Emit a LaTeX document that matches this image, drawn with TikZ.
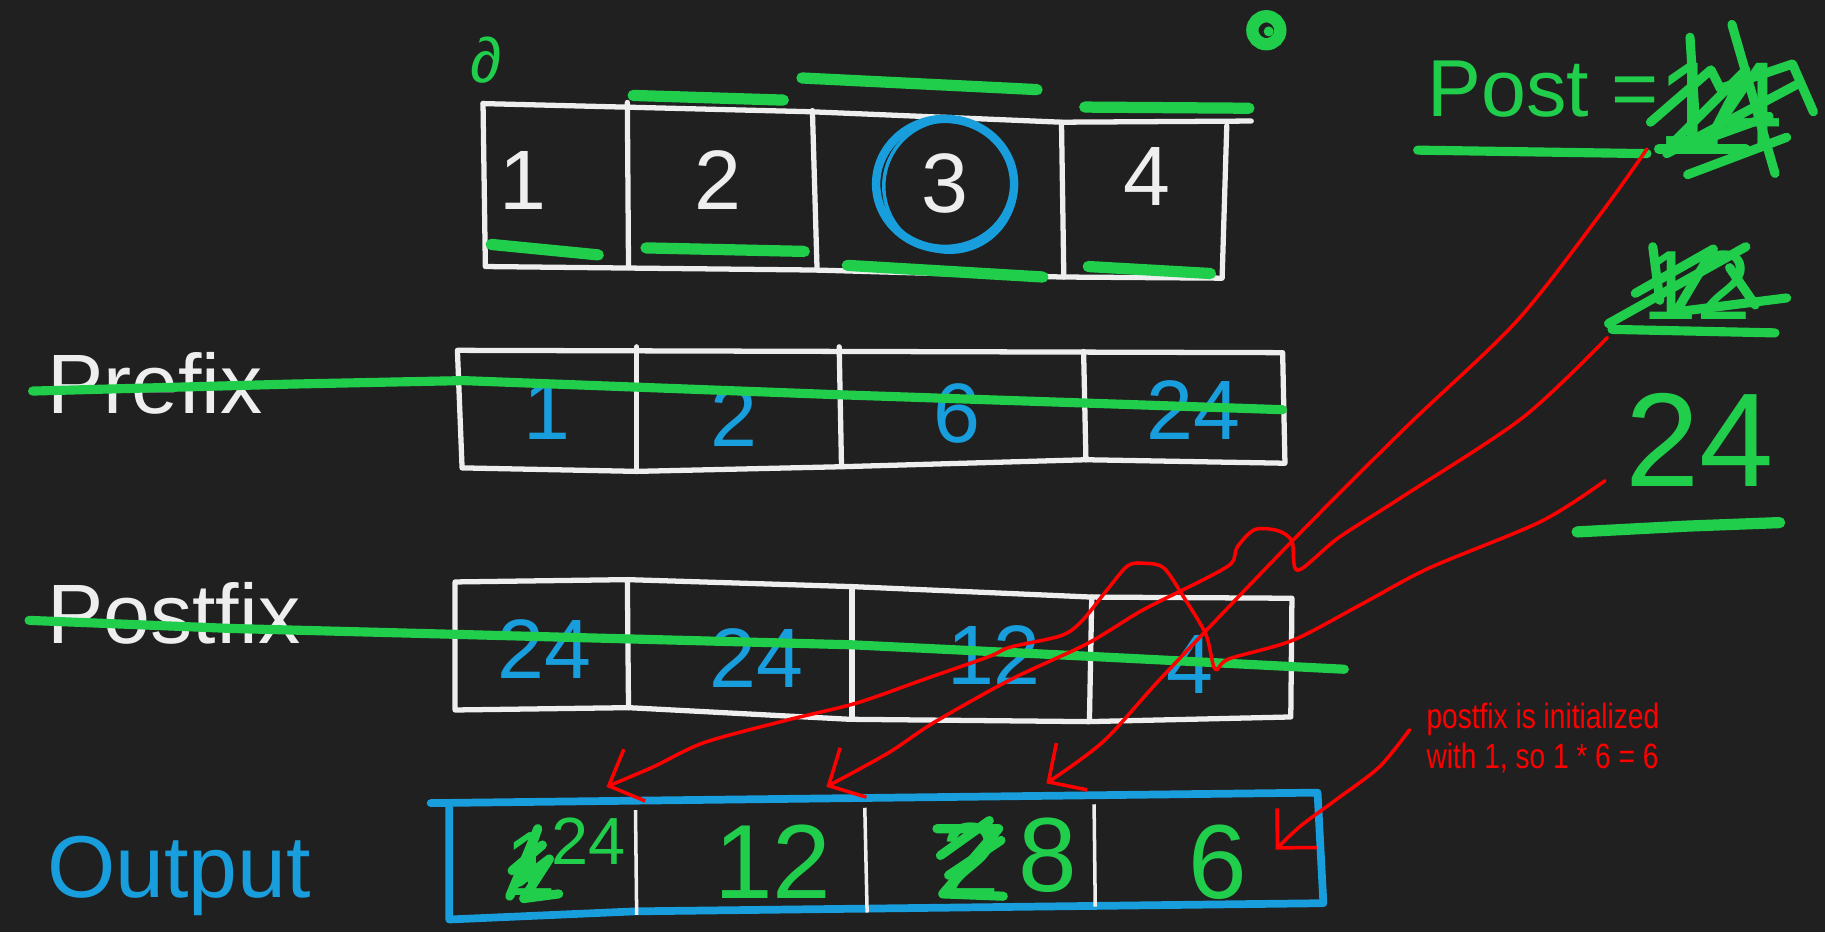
\documentclass[tikz,border=0pt]{standalone}
\usepackage{fontspec}
\setmainfont{Liberation Sans}
\newfontfamily\notefont[FakeStretch=0.8]{Liberation Sans}
\usetikzlibrary{arrows.meta,calc}

\definecolor{board}{RGB}{32,32,32}
\definecolor{chalk}{RGB}{238,238,238}
\definecolor{marker}{RGB}{32,206,76}
\definecolor{penblue}{RGB}{24,158,220}
\definecolor{penred}{RGB}{255,0,0}

\begin{document}
\begin{tikzpicture}[
        x=0.01164cm, y=-0.01164cm,
        box/.style={draw=chalk, line width=1.5pt, line join=round, line cap=round},
        obox/.style={draw=penblue, line width=2.2pt, line join=round, line cap=round},
        hl/.style={draw=marker, line width=3.2pt, line cap=round, line join=round},
        strike/.style={draw=marker, line width=2.6pt, line cap=round, line join=round},
        scrib/.style={draw=marker, line width=2.6pt, line cap=round, line join=round},
        link/.style={draw=penred, line width=1pt, line cap=round, line join=round,
            -{Straight Barb[length=2.8mm, width=5.6mm]}},
        rowname/.style={font=\fontsize{25}{30}\selectfont, inner sep=0pt, anchor=base west},
        val/.style={font=\fontsize{24}{28}\selectfont, inner sep=0pt},
        outval/.style={font=\fontsize{30}{36}\selectfont, inner sep=0pt, text=marker}
    ]

    \fill[board] (0,0) rectangle (1568,801);
    \useasboundingbox (0,0) rectangle (1568,801);

    % Step 1: input array
    \draw[box] (415,89) -- (696,96) -- (912,105) -- (1075,104);
    \draw[box] (415,89) -- (417,229) -- (700,232) -- (912,238) -- (1050,239) -- (1054,108);
    \draw[box] (539,88) -- (540,230);
    \draw[box] (698,95) -- (702,232);
    \draw[box] (912,105) -- (914,238);

    \node[val, text=chalk] (in1) at (449,155) {1};
    \node[val, text=chalk] (in2) at (617,155) {2};
    \node[val, text=chalk] (in3) at (812,158) {3};
    \node[val, text=chalk] (in4) at (985,152) {4};

    \draw[penblue, line width=2.4pt] (in3) ellipse [x radius=0.69cm, y radius=0.65cm];
    \draw[penblue, line width=1pt] ($(in3)+(4,2)$) ellipse [x radius=0.66cm, y radius=0.66cm];

    \draw[hl] (422,210) -- (514,219);
    \draw[hl] (555,213) -- (691,216);
    \draw[hl] (728,228) -- (896,238);
    \draw[hl] (935,229) -- (1040,235);
    \draw[hl] (544,82) -- (673,86);
    \draw[hl] (689,67) -- (891,77);
    \draw[hl] (932,92) -- (1073,93);

    \node[text=marker, font=\fontsize{18}{20}\selectfont, inner sep=0pt] (amark) at (418,52) {∂};
    \draw[marker, line width=3.5pt] (1088,26) circle [radius=0.14cm];
    \fill[marker] (1090,27) circle [radius=0.05cm];

    % Step 2: prefix row
    \node[rowname, text=chalk, font=\fontsize{24}{28}\selectfont] (prefix) at (40,355) {Prefix};
    \draw[box] (393,301) -- (1102,303) -- (1104,398) -- (933,395) -- (723,401)
        -- (547,405) -- (397,402) -- cycle;
    \draw[box] (547,298) -- (547,405);
    \draw[box] (721,298) -- (723,401);
    \draw[box] (931,302) -- (933,395);

    \node[val, text=penblue] (pre1) at (470,353) {1};
    \node[val, text=penblue] (pre2) at (631,358) {2};
    \node[val, text=penblue] (pre3) at (822,355) {6};
    \node[val, text=penblue] (pre4) at (1025,352) {24};

    \draw[strike] (28,336) -- (250,330) -- (398,327) -- (716,339) -- (1102,352);

    % Step 3: postfix row
    \node[rowname, text=chalk, font=\fontsize{24}{28}\selectfont] (postfix) at (40,553) {Postfix};
    \draw[box] (391,500) -- (539,498) -- (732,504) -- (938,513) -- (1110,514)
        -- (1109,616) -- (935,620) -- (730,618) -- (540,608) -- (391,610) -- cycle;
    \draw[box] (539,498) -- (540,608);
    \draw[box] (732,504) -- (732,618);
    \draw[box] (938,513) -- (936,620);

    \node[val, text=penblue] (suf1) at (468,558) {24};
    \node[val, text=penblue] (suf2) at (650,565) {24};
    \node[val, text=penblue] (suf3) at (854,563) {12};
    \node[val, text=penblue] (suf4) at (1022,571) {4};

    \draw[strike] (25,533) -- (200,540) -- (391,545) -- (732,554) -- (938,564) -- (1155,575);

    % Step 4: output row
    \node[rowname, text=penblue] (output) at (40,771) {Output};
    \draw[obox] (370,690) -- (1132,681) -- (1137,776) -- (546,783) -- (386,790) -- (386,693);
    \draw[draw=chalk, line width=1pt] (546,696) -- (547,786);
    \draw[draw=chalk, line width=1pt] (743,694) -- (745,784);
    \draw[draw=chalk, line width=1pt] (940,691) -- (941,779);

    \node[outval, font=\fontsize{26}{30}\selectfont] (old1) at (456,742) {1};
    \draw[scrib] (438,770) -- (462,712) -- (446,758) -- (472,738) -- (450,772) -- (480,768);
    \draw[scrib] (440,748) -- (466,726);
    \node[outval, font=\fontsize{19}{22}\selectfont] (out1) at (506,723) {24};
    \node[outval] (out2) at (664,740) {12};
    \node[outval] (old3) at (834,739) {2};
    \draw[scrib] (805,712) -- (858,712) -- (810,768) -- (862,770);
    \draw[scrib] (815,752) -- (860,722);
    \draw[scrib] (808,735) -- (850,705);
    \node[outval] (out3) at (900,735) {8};
    \node[outval] (out4) at (1046,741) {6};

    % Step 5: running postfix value
    \node[rowname, text=marker, font=\fontsize{23}{26}\selectfont] (post) at (1226,100) {Post =};
    \draw[strike] (1218,129) -- (1415,132);

    \node[text=marker, font=\fontsize{34}{38}\selectfont, inner sep=0pt] (postfour) at (1478,90) {1\kern-2pt4};
    \draw[scrib] (1452,32) -- (1456,95);
    \draw[scrib] (1488,21) -- (1525,149);
    \draw[scrib] (1418,105) -- (1470,60) -- (1478,76) -- (1540,55) -- (1558,96);
    \draw[scrib] (1432,132) -- (1545,72);
    \draw[scrib] (1450,150) -- (1535,118);
    \draw[scrib] (1440,120) -- (1500,60) -- (1470,118) -- (1520,100);
    \draw[scrib] (1425,128) -- (1500,128);

    \node[text=marker, font=\fontsize{28}{32}\selectfont, inner sep=0pt] (posttwelve) at (1458,245) {12};
    \draw[scrib] (1382,278) -- (1500,212);
    \draw[scrib] (1405,252) -- (1472,214) -- (1440,268) -- (1535,256);
    \draw[scrib] (1420,212) -- (1426,258);
    \draw[scrib] (1486,230) -- (1508,262);
    \draw[strike] (1385,283) -- (1525,286);

    \node[text=marker, font=\fontsize{38}{42}\selectfont, inner sep=0pt] (postnow) at (1460,378) {24};
    \draw[hl] (1355,457) -- (1450,452) -- (1529,449);

    % Step 6: red links into the output
    \coordinate (fromfour) at (1415,128);
    \coordinate (fromtwelve) at (1381,290);
    \coordinate (fromnow) at (1379,413);
    \coordinate (tofour) at (899,673);
    \coordinate (totwelve) at (710,676);
    \coordinate (tonow) at (521,676);

    \draw[link] plot[smooth, tension=0.5] coordinates {(fromfour) (1375,184) (1303,276)
        (1208,367) (1111,464) (1000,580) (948,637) (tofour)};
    \draw[link] plot[smooth, tension=0.5] coordinates {(fromtwelve) (1308,359) (1203,428)
        (1150,462) (1115,490) (1110,465) (1098,456) (1078,455) (1063,470) (1058,484)
        (1034,498) (982,524) (934,553) (868,584) (802,621) (763,647) (totwelve)};
    \draw[link] plot[smooth, tension=0.5] coordinates {(fromnow) (1324,448) (1228,488)
        (1170,519) (1111,550) (1056,566) (1044,575) (1036,545) (1017,513) (1000,488)
        (984,484) (969,486) (951,507) (930,533) (912,546) (868,556) (850,564)
        (793,584) (736,604) (675,619) (605,638) (561,659) (tonow)};

    \node[text=penred, font=\notefont\fontsize{10}{11.5}\selectfont, align=left,
        inner sep=0pt, anchor=north west] (note) at (1225,603)
        {postfix is initialized\\with 1, so 1 * 6 = 6};
    \coordinate (fromnote) at (1211,627);
    \coordinate (tosix) at (1096,730);
    \draw[link] plot[smooth, tension=0.5] coordinates {(fromnote) (1185,659) (1148,687)
        (1117,710) (tosix)};

\end{tikzpicture}
\end{document}
